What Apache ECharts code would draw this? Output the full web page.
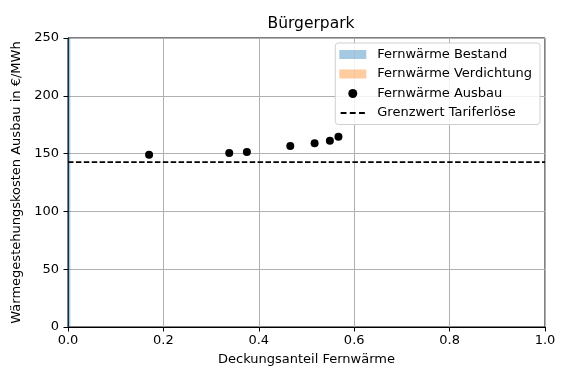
<!DOCTYPE html>
<html>
<head>
<meta charset="utf-8">
<style>html,body{margin:0;padding:0;background:#fff}#main{width:568px;height:379px}</style>
<script src="https://cdn.jsdelivr.net/npm/echarts@6/dist/echarts.min.js"></script>
</head>
<body>
<div id="main"></div>
<script type="text/javascript">
    // Daten
    var bestandAnteil = 0.005;
    var verdichtungAnteil = 0.005;
    var ausbauX = [0.170, 0.338, 0.375, 0.466, 0.517, 0.549, 0.567];
    var ausbauY = [149.0, 150.5, 151.4, 156.6, 158.9, 161.2, 164.6];
    var grenzwert = 142.7;
    var yMax = 250;

    var fontName = 'DejaVu Sans';
    var myChart = echarts.init(document.getElementById('main'));

    var ausbauData = ausbauX.map(function (x, i) { return [x, ausbauY[i]]; });

    // gestrichelte Linie als Legendensymbol
    var dashIcon = 'path://M0,0h0.05v0.05h-0.05z M0,4h6.5v2h-6.5z M10.2,4h6.5v2h-6.5z M20.4,4h6.5v2h-6.5z M26.95,9.95h0.05v0.05h-0.05z';

    var option = {
        animation: false,
        title: {
            text: 'Bürgerpark',
            left: 306, textAlign: 'center', top: 11,
            textStyle: {fontFamily: fontName, fontSize: 15.5, fontWeight: 'normal', color: '#000'}
        },
        grid: {
            left: 68, right: 23, top: 38, bottom: 52,
            show: true, borderColor: '#000', borderWidth: 1
        },
        legend: {
            orient: 'vertical',
            right: 28, top: 43,
            padding: [4, 8, 4, 4],
            backgroundColor: 'rgba(255,255,255,0.85)',
            borderColor: '#d0d0d0', borderWidth: 1, borderRadius: 3,
            itemWidth: 27, itemHeight: 9, itemGap: 4.5,
            textStyle: {fontFamily: fontName, fontSize: 13, color: '#000', lineHeight: 15, padding: [0, 0, 0, 6]},
            data: [
                {name: 'Fernwärme Bestand', icon: 'rect'},
                {name: 'Fernwärme Verdichtung', icon: 'rect'},
                {name: 'Fernwärme Ausbau', icon: 'circle'},
                {name: 'Grenzwert Tariferlöse', icon: dashIcon}
            ]
        },
        xAxis: {
            type: 'value', min: 0, max: 1, interval: 0.2,
            name: 'Deckungsanteil Fernwärme', nameLocation: 'middle', nameGap: 26,
            nameTextStyle: {fontFamily: fontName, fontSize: 13, color: '#000'},
            axisLine: {lineStyle: {color: '#000'}},
            axisTick: {show: true, length: 4.5, lineStyle: {color: '#000'}},
            axisLabel: {fontFamily: fontName, fontSize: 13, color: '#000', margin: 7,
                formatter: function (v) { return v.toFixed(1); }},
            splitLine: {show: true, lineStyle: {color: '#b0b0b0', width: 1}}
        },
        yAxis: {
            type: 'value', min: 0, max: yMax, interval: 50,
            name: 'Wärmegestehungskosten Ausbau in €/MWh', nameLocation: 'middle', nameGap: 37,
            nameTextStyle: {fontFamily: fontName, fontSize: 13, color: '#000'},
            axisLine: {show: true, lineStyle: {color: '#000'}},
            axisTick: {show: true, length: 4.5, lineStyle: {color: '#000'}},
            axisLabel: {fontFamily: fontName, fontSize: 13, color: '#000', margin: 9},
            splitLine: {show: true, lineStyle: {color: '#b0b0b0', width: 1}}
        },
        series: [
            {
                name: 'Fernwärme Bestand',
                type: 'line',
                symbol: 'none',
                data: [[0, yMax], [bestandAnteil, yMax]],
                lineStyle: {width: 0},
                areaStyle: {color: 'rgba(31,119,180,0.4)', opacity: 1},
                itemStyle: {color: 'rgba(31,119,180,0.4)'}
            },
            {
                name: 'Fernwärme Verdichtung',
                type: 'line',
                symbol: 'none',
                data: [[bestandAnteil, yMax], [verdichtungAnteil, yMax]],
                lineStyle: {width: 0},
                areaStyle: {color: 'rgba(255,127,14,0.4)', opacity: 1},
                itemStyle: {color: 'rgba(255,127,14,0.4)'}
            },
            {
                name: 'Fernwärme Ausbau',
                type: 'scatter',
                symbolSize: 8,
                data: ausbauData,
                itemStyle: {color: '#000', opacity: 1},
                z: 5
            },
            {
                name: 'Grenzwert Tariferlöse',
                type: 'line',
                symbol: 'none',
                data: [[0, grenzwert], [1, grenzwert]],
                lineStyle: {color: '#000', width: 1.8, type: [5.5, 2.4]},
                itemStyle: {color: '#000'},
                z: 4
            }
        ]
    };
    myChart.setOption(option);
</script>
</body>
</html>
